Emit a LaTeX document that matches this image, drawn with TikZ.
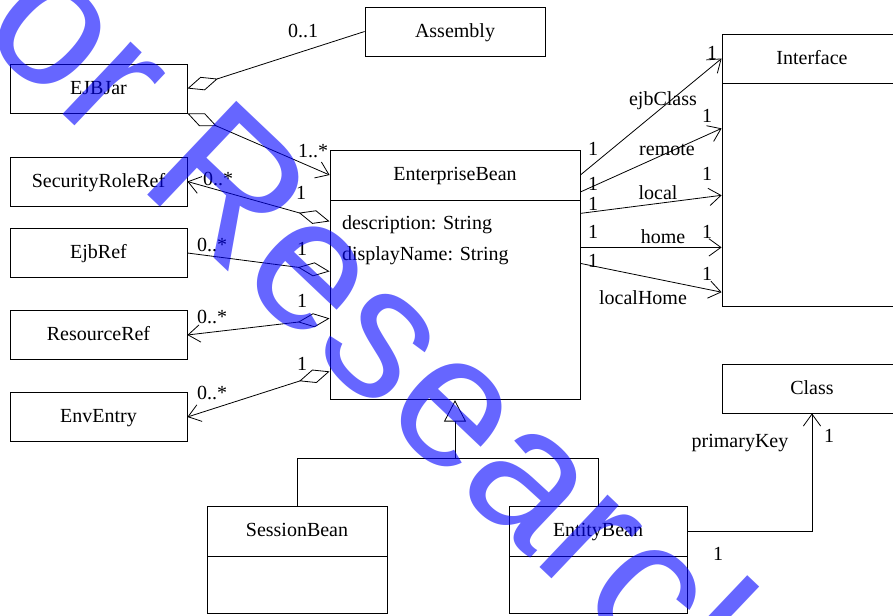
\documentclass[tikz,border=0pt]{standalone}
\usepackage{fontspec}
\setmainfont{Liberation Serif}
\newfontfamily\wmfont{Liberation Sans}
\usepackage{tikz}
\usetikzlibrary{arrows.meta,positioning,calc}
\usepackage{xcolor}
\definecolor{stampblue}{HTML}{0000FF}
\tikzset{
  diam/.tip={Diamond[open,length=24pt,width=10.5pt]},
  inherit/.tip={Triangle[open,length=16pt,width=16.5pt]},
  box/.style={draw,inner sep=0pt,minimum width=132.75pt,minimum height=36.75pt,text height=11pt,text depth=2pt},
  attr/.style={anchor=west,inner sep=0pt},
  mult/.style={inner sep=0pt},
  stamp/.style={font=\wmfont\fontsize{141}{141}\selectfont,text=stampblue,text opacity=0.6,inner sep=0pt}
}

\begin{document}
\begin{tikzpicture}[x=0.75pt,y=-0.75pt,>={Straight Barb[length=9pt,width=13pt]},
  font=\fontsize{15}{18}\selectfont,line width=0.6pt]
  \useasboundingbox (0,0) rectangle (893,616);
  \clip (0,0) rectangle (893,616);
  % Classes on the left
  \node[box] (ejbjar) at (98.5,88.5) {EJBJar};
  \node[box] (secref) at (98.5,181.5) {SecurityRoleRef};
  \node[box] (ejbref) at (98.5,253) {EjbRef};
  \node[box] (resref) at (98.5,335) {ResourceRef};
  \node[box] (enventry) at (98.5,417) {EnvEntry};
  \node[box,minimum width=135pt] (assembly) at (455,31.5) {Assembly};
  % EnterpriseBean
  \node[box,minimum width=187.5pt,minimum height=37.5pt] (ebean) at (455,175) {EnterpriseBean};
  \node[box,minimum width=187.5pt,minimum height=149.25pt,below=0pt of ebean] (ebeanbody) {};
  \node[attr] (descr) at ([xshift=9pt,yshift=-18.5pt]ebeanbody.north west) {description: String};
  \node[attr] (dname) at ([xshift=9pt,yshift=-41.75pt]ebeanbody.north west) {displayName: String};
  % Interface and Class
  \node[box,minimum width=135pt] (iface) at (812,58.5) {Interface};
  \node[box,minimum width=135pt,minimum height=167.25pt,below=0pt of iface] (ifacebody) {};
  \node[box,minimum width=135pt] (cls) at (812,388.5) {Class};
  % Subclasses
  \node[box,minimum width=135pt,minimum height=37.5pt] (session) at (297,531) {SessionBean};
  \node[box,minimum width=135pt,minimum height=42.75pt,below=0pt of session] (sessionbody) {};
  \node[box,minimum width=133.5pt,minimum height=37.5pt] (entity) at (598,531) {EntityBean};
  \node[box,minimum width=133.5pt,minimum height=42.75pt,below=0pt of entity] (entitybody) {};
  % EJBJar links
  \draw[diam-] (ejbjar.east) -- (assembly.west);
  \draw[diam->] (ejbjar.south east) -- (ebean.west);
  \node[mult] (m01) at (303,31) {0..1};
  \node[mult] (m1n) at (313,151) {1..*};
  % References
  \draw[diam->] ([yshift=-15.75pt]ebeanbody.north west) -- (secref.east);
  \draw[diam-] ([yshift=-53.25pt]ebeanbody.north west) -- (ejbref.east);
  \draw[diam->] ([yshift=-88.5pt]ebeanbody.north west) -- (resref.east);
  \draw[diam->] ([yshift=-128.25pt]ebeanbody.north west) -- (enventry.east);
  \node[mult] (msec) at (218,179) {0..*};
  \node[mult] (msec1) at (301,193) {1};
  \node[mult] (mejb) at (212,245) {0..*};
  \node[mult] (mejb1) at (302,249) {1};
  \node[mult] (mres) at (212,317) {0..*};
  \node[mult] (mres1) at (302,301) {1};
  \node[mult] (menv) at (212,393) {0..*};
  \node[mult] (menv1) at (302,364) {1};
  % Interfaces
  \draw[->] (ebean.east) -- (iface.west);
  \draw[->] ([yshift=-12.75pt]ebean.east) -- ([yshift=-33.75pt]ifacebody.north west);
  \draw[->] ([yshift=-9.75pt]ebeanbody.north east) -- (ifacebody.west);
  \draw[->] ([yshift=-35.25pt]ebeanbody.north east) coordinate (homestart) -- (homestart -| ifacebody.west);
  \draw[->] ([yshift=-47.25pt]ebeanbody.north east) -- ([yshift=11.25pt]ifacebody.south west);
  \node[mult] (cls1) at (593,149) {1};
  \node (lclass) at (663,101) {ejbClass};
  \node[mult] (cls2) at (712,53) {1};
  \node[mult] (rem1) at (593,184) {1};
  \node (lremote) at (667,150) {remote};
  \node[mult] (rem2) at (707,116) {1};
  \node[mult] (loc1) at (593,204) {1};
  \node (llocal) at (658,193) {local};
  \node[mult] (loc2) at (707,174) {1};
  \node[mult] (hom1) at (593,232) {1};
  \node (lhome) at (663,237) {home};
  \node[mult] (hom2) at (707,232) {1};
  \node[mult] (lhm1) at (593,261) {1};
  \node (llochome) at (643,298) {localHome};
  \node[mult] (lhm2) at (707,274) {1};
  % Inheritance
  \coordinate (split) at (455,458);
  \draw (session.north) -- (session.north |- split) -- (entity.north |- split) -- (entity.north);
  \draw[-inherit] (ebeanbody.south |- split) -- (ebeanbody.south);
  % Primary key
  \draw[->] (entity.east) -| (cls.south);
  \node (lpkey) at (740,443) {primaryKey};
  \node[mult] (pk1) at (829,436) {1};
  \node[mult] (pk2) at (718,554) {1};
  % Stamp
  \node[stamp,rotate=-43.5,anchor=base west] (stamp) at (-106,-46) {For Research Only};
\end{tikzpicture}
\end{document}
